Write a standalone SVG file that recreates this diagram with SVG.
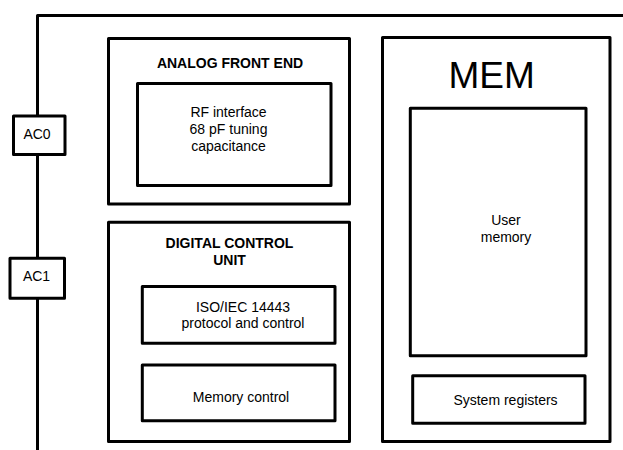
<svg xmlns="http://www.w3.org/2000/svg" width="623" height="450" viewBox="0 0 623 450">
<style>
.b{fill:#fff;stroke:#000;stroke-width:3;stroke-linejoin:round}
.w{fill:none;stroke:#000;stroke-width:3;stroke-linejoin:round}
text{font-family:"Liberation Sans",Arial,sans-serif;font-size:14px;fill:#000;text-anchor:middle}
.t{font-weight:bold}
.big{font-size:37px}
</style>
<rect width="623" height="450" fill="#fff"/>
<g id="connectors">
<path class="w" d="M37.5 450 V15.5 H623"/>
</g>
<g id="ac0">
<rect class="b" x="13.5" y="116" width="51.5" height="38.5"/>
<text x="37" y="138.7">AC0</text>
</g>
<g id="ac1">
<rect class="b" x="10" y="258.3" width="54.5" height="40"/>
<text x="36.5" y="280.7">AC1</text>
</g>
<g id="afe">
<rect class="b" x="108.5" y="38.5" width="241" height="165.5"/>
<text class="t" x="230" y="68">ANALOG FRONT END</text>
</g>
<g id="rf">
<rect class="b" x="137.5" y="83.5" width="193.5" height="102"/>
<text x="228.5" y="117">RF interface</text>
<text x="228.5" y="134.3">68 pF tuning</text>
<text x="228.5" y="151.3">capacitance</text>
</g>
<g id="dcu">
<rect class="b" x="108.5" y="222.2" width="241" height="219.3"/>
<text class="t" x="229.5" y="248">DIGITAL CONTROL</text>
<text class="t" x="229.5" y="265">UNIT</text>
</g>
<g id="iso">
<rect class="b" x="142.3" y="286.5" width="192.7" height="56.8"/>
<text x="243" y="311.7">ISO/IEC 14443</text>
<text x="243" y="328.2">protocol and control</text>
</g>
<g id="memctl">
<rect class="b" x="142.3" y="365" width="192.7" height="55.7"/>
<text x="241" y="401.5">Memory control</text>
</g>
<g id="mem">
<rect class="b" x="382.5" y="37.5" width="227.5" height="404"/>
<text class="big" x="491.7" y="88.3">MEM</text>
</g>
<g id="usermem">
<rect class="b" x="410.3" y="108.3" width="175.7" height="247.4"/>
<text x="506" y="225">User</text>
<text x="506" y="241.7">memory</text>
</g>
<g id="sysreg">
<rect class="b" x="412.7" y="375.7" width="172.3" height="47.6"/>
<text x="505.5" y="405">System registers</text>
</g>
</svg>
